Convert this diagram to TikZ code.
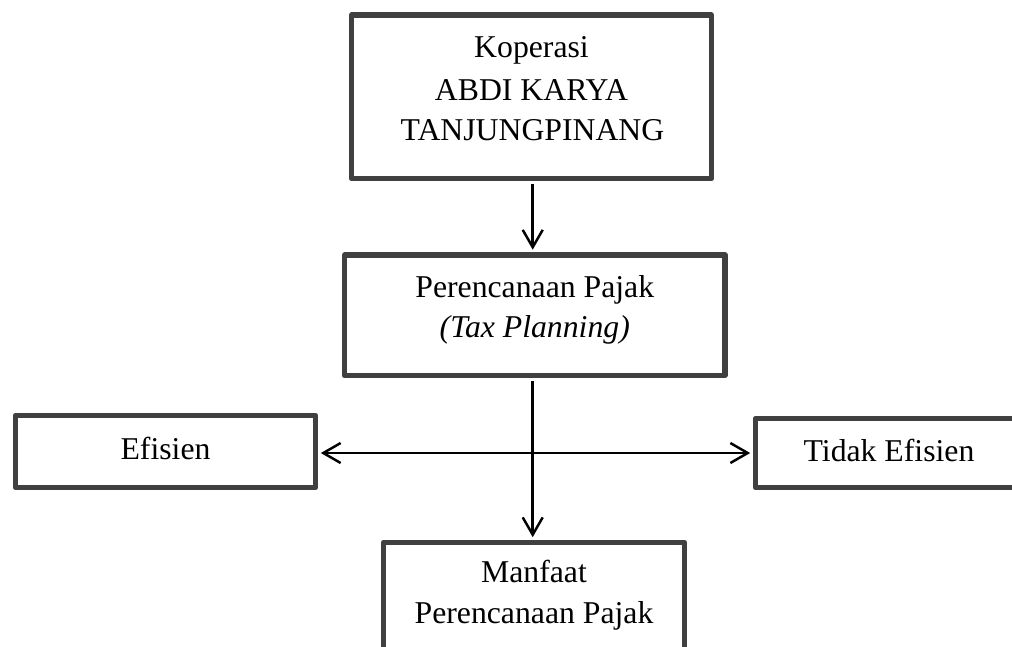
\documentclass[tikz,border=0pt]{standalone}
\usepackage{fontspec}
\setmainfont{Liberation Serif}
\usetikzlibrary{arrows.meta}
\definecolor{boxgray}{HTML}{404040}
\tikzset{
  box/.style={draw=boxgray, line width=4pt, line join=round, rectangle, inner sep=0pt, fill=white},
  txt/.style={inner sep=0pt, anchor=base, font=\fontsize{23.8pt}{28pt}\selectfont},
  arr/.style={line width=1.85pt, black, shorten >=2pt, shorten <=2pt},
  barb/.style={Straight Barb[length=13pt,width=15pt]}
}
\begin{document}
\begin{tikzpicture}[x=0.75pt,y=-0.75pt]
\useasboundingbox (0,0) rectangle (1012,646);
\clip (0,0) rectangle (1012,646);
% boxes
\node[box, minimum width=270pt, minimum height=122.625pt] (top) at (531.5,96.75) {};
\node[box, minimum width=285.375pt, minimum height=90.375pt] (mid) at (534.75,315.25) {};
\node[box, minimum width=225pt, minimum height=54pt] (eff) at (165.5,451.5) {};
\node[box, minimum width=200.25pt, minimum height=51.75pt] (tid) at (889,453) {};
\node[box, minimum width=225.75pt, minimum height=120pt] (bot) at (534,622.5) {};
% texts
\node[txt] (t1) at (531.5,57.5) {Koperasi};
\node[txt] (t2) at (531.5,100) {ABDI KARYA};
\node[txt] (t3) at (532.5,140.5) {TANJUNGPINANG};
\node[txt] (m1) at (534.75,297) {Perencanaan Pajak};
\node[txt] (m2) at (534.75,337) {\itshape (Tax Planning)};
\node[txt] (e1) at (165.5,459) {Efisien};
\node[txt] (d1) at (889,461) {Tidak Efisien};
\node[txt] (b1) at (534,582.5) {Manfaat};
\node[txt] (b2) at (534,623) {Perencanaan Pajak};
% connectors
\coordinate (vx) at (532.7,0);
\coordinate (hy) at (0,453);
\draw[arr, -{Straight Barb[length=13pt,width=15pt]}] (top.south -| vx) -- (mid.north -| vx);
\draw[arr, -{Straight Barb[length=13pt,width=15pt]}] (mid.south -| vx) -- (bot.north -| vx);
\draw[arr, {Straight Barb[length=13pt,width=15pt]}-{Straight Barb[length=13pt,width=15pt]}] (eff.east |- hy) -- (tid.west |- hy);
\end{tikzpicture}
\end{document}
